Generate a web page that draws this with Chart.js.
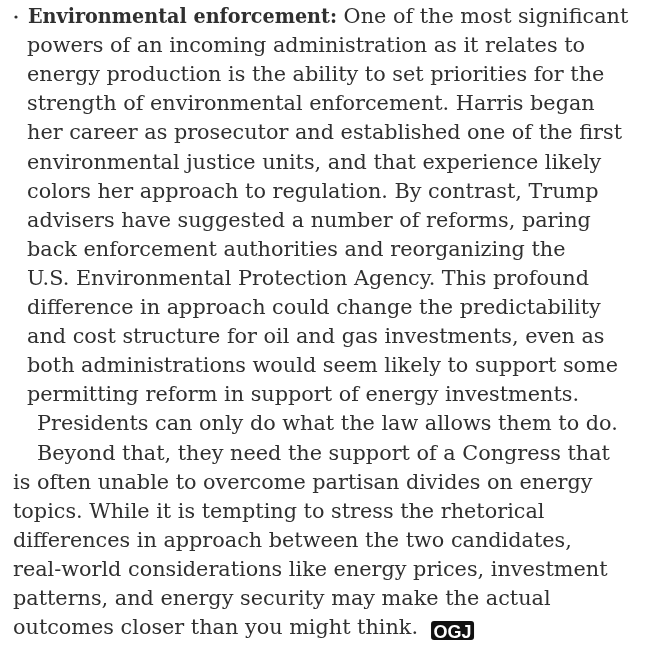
<!DOCTYPE html>
<html>
<head>
<meta charset="utf-8">
<script src="https://cdn.jsdelivr.net/npm/chart.js@4.4.1/dist/chart.umd.min.js"></script>
<style>
  html, body { margin: 0; padding: 0; background: #ffffff; }
  #page { display: block; }
</style>
</head>
<body>
<canvas id="page" width="648" height="647"></canvas>
<script>
// bullet paragraph
const leadLabel = "Environmental enforcement:";
const bulletLines = [
    " One of the most significant",
    "powers of an incoming administration as it relates to",
    "energy production is the ability to set priorities for the",
    "strength of environmental enforcement. Harris began",
    "her career as prosecutor and established one of the first",
    "environmental justice units, and that experience likely",
    "colors her approach to regulation. By contrast, Trump",
    "advisers have suggested a number of reforms, paring",
    "back enforcement authorities and reorganizing the",
    "U.S. Environmental Protection Agency. This profound",
    "difference in approach could change the predictability",
    "and cost structure for oil and gas investments, even as",
    "both administrations would seem likely to support some",
    "permitting reform in support of energy investments."
];
// closing paragraphs, true = first line of a paragraph (indented)
const bodyLines = [
    "Presidents can only do what the law allows them to do.",
    "Beyond that, they need the support of a Congress that",
    "is often unable to overcome partisan divides on energy",
    "topics. While it is tempting to stress the rhetorical",
    "differences in approach between the two candidates,",
    "real-world considerations like energy prices, investment",
    "patterns, and energy security may make the actual",
    "outcomes closer than you might think."
];
const bodyIndent = [true, true, false, false, false, false, false, false];
const logoText = "OGJ";

const textPlugin = {
    id: 'articleText',
    afterDraw(chart) {
        const ctx = chart.ctx;
        const fontSize = 21;
        const lineGap = 29.1;
        const top = 23;
        const regular = fontSize + 'px "DejaVu Serif", serif';
        const bold = 'bold ' + fontSize + 'px "DejaVu Serif", serif';
        ctx.save();
        ctx.fillStyle = '#303030';
        ctx.textBaseline = 'alphabetic';

        // squeeze the text so "powers ... relates to" is ~558px wide like the print
        ctx.font = regular;
        const sx = 558 / ctx.measureText(bulletLines[1]).width;
        const line = (t, x, y, k) => {
            ctx.save();
            ctx.translate(x, y);
            ctx.scale(k, 1);
            ctx.fillText(t, 0, 0);
            ctx.restore();
            return ctx.measureText(t).width * k;
        };

        // bullet dot
        ctx.beginPath();
        ctx.arc(16, top - 6, 1.6, 0, Math.PI * 2);
        ctx.fill();

        // first line: bold lead + regular text
        ctx.font = bold;
        const sxBold = 309 / ctx.measureText(leadLabel).width;
        const leadW = line(leadLabel, 28, top, sxBold);
        ctx.font = regular;
        line(bulletLines[0], 28 + leadW, top, sx);
        for (let i = 1; i < bulletLines.length; i++) {
            line(bulletLines[i], 27, top + i * lineGap, sx);
        }

        const start = bulletLines.length;
        let lastEnd = 0, lastY = 0;
        bodyLines.forEach((t, i) => {
            const x = bodyIndent[i] ? 37 : 13;
            const y = top + (start + i) * lineGap;
            lastEnd = x + line(t, x, y, sx);
            lastY = y;
        });

        // magazine end mark
        const bx = lastEnd + 13, by = lastY - 13, bw = 43, bh = 19;
        ctx.fillStyle = '#111111';
        ctx.beginPath();
        ctx.roundRect(bx, by, bw, bh, 3);
        ctx.fill();
        ctx.fillStyle = '#ffffff';
        ctx.font = 'bold 18px "Liberation Sans", sans-serif';
        ctx.textAlign = 'center';
        ctx.fillText(logoText, bx + bw / 2, by + bh - 2);
        ctx.restore();
    }
};

new Chart(document.getElementById('page'), {
    type: 'line',
    data: { labels: [], datasets: [] },
    options: {
        responsive: false,
        animation: false,
        devicePixelRatio: 1,
        layout: { padding: 0 },
        plugins: { legend: { display: false }, tooltip: { enabled: false } },
        scales: { x: { display: false }, y: { display: false } }
    },
    plugins: [textPlugin]
});
</script>
</body>
</html>
